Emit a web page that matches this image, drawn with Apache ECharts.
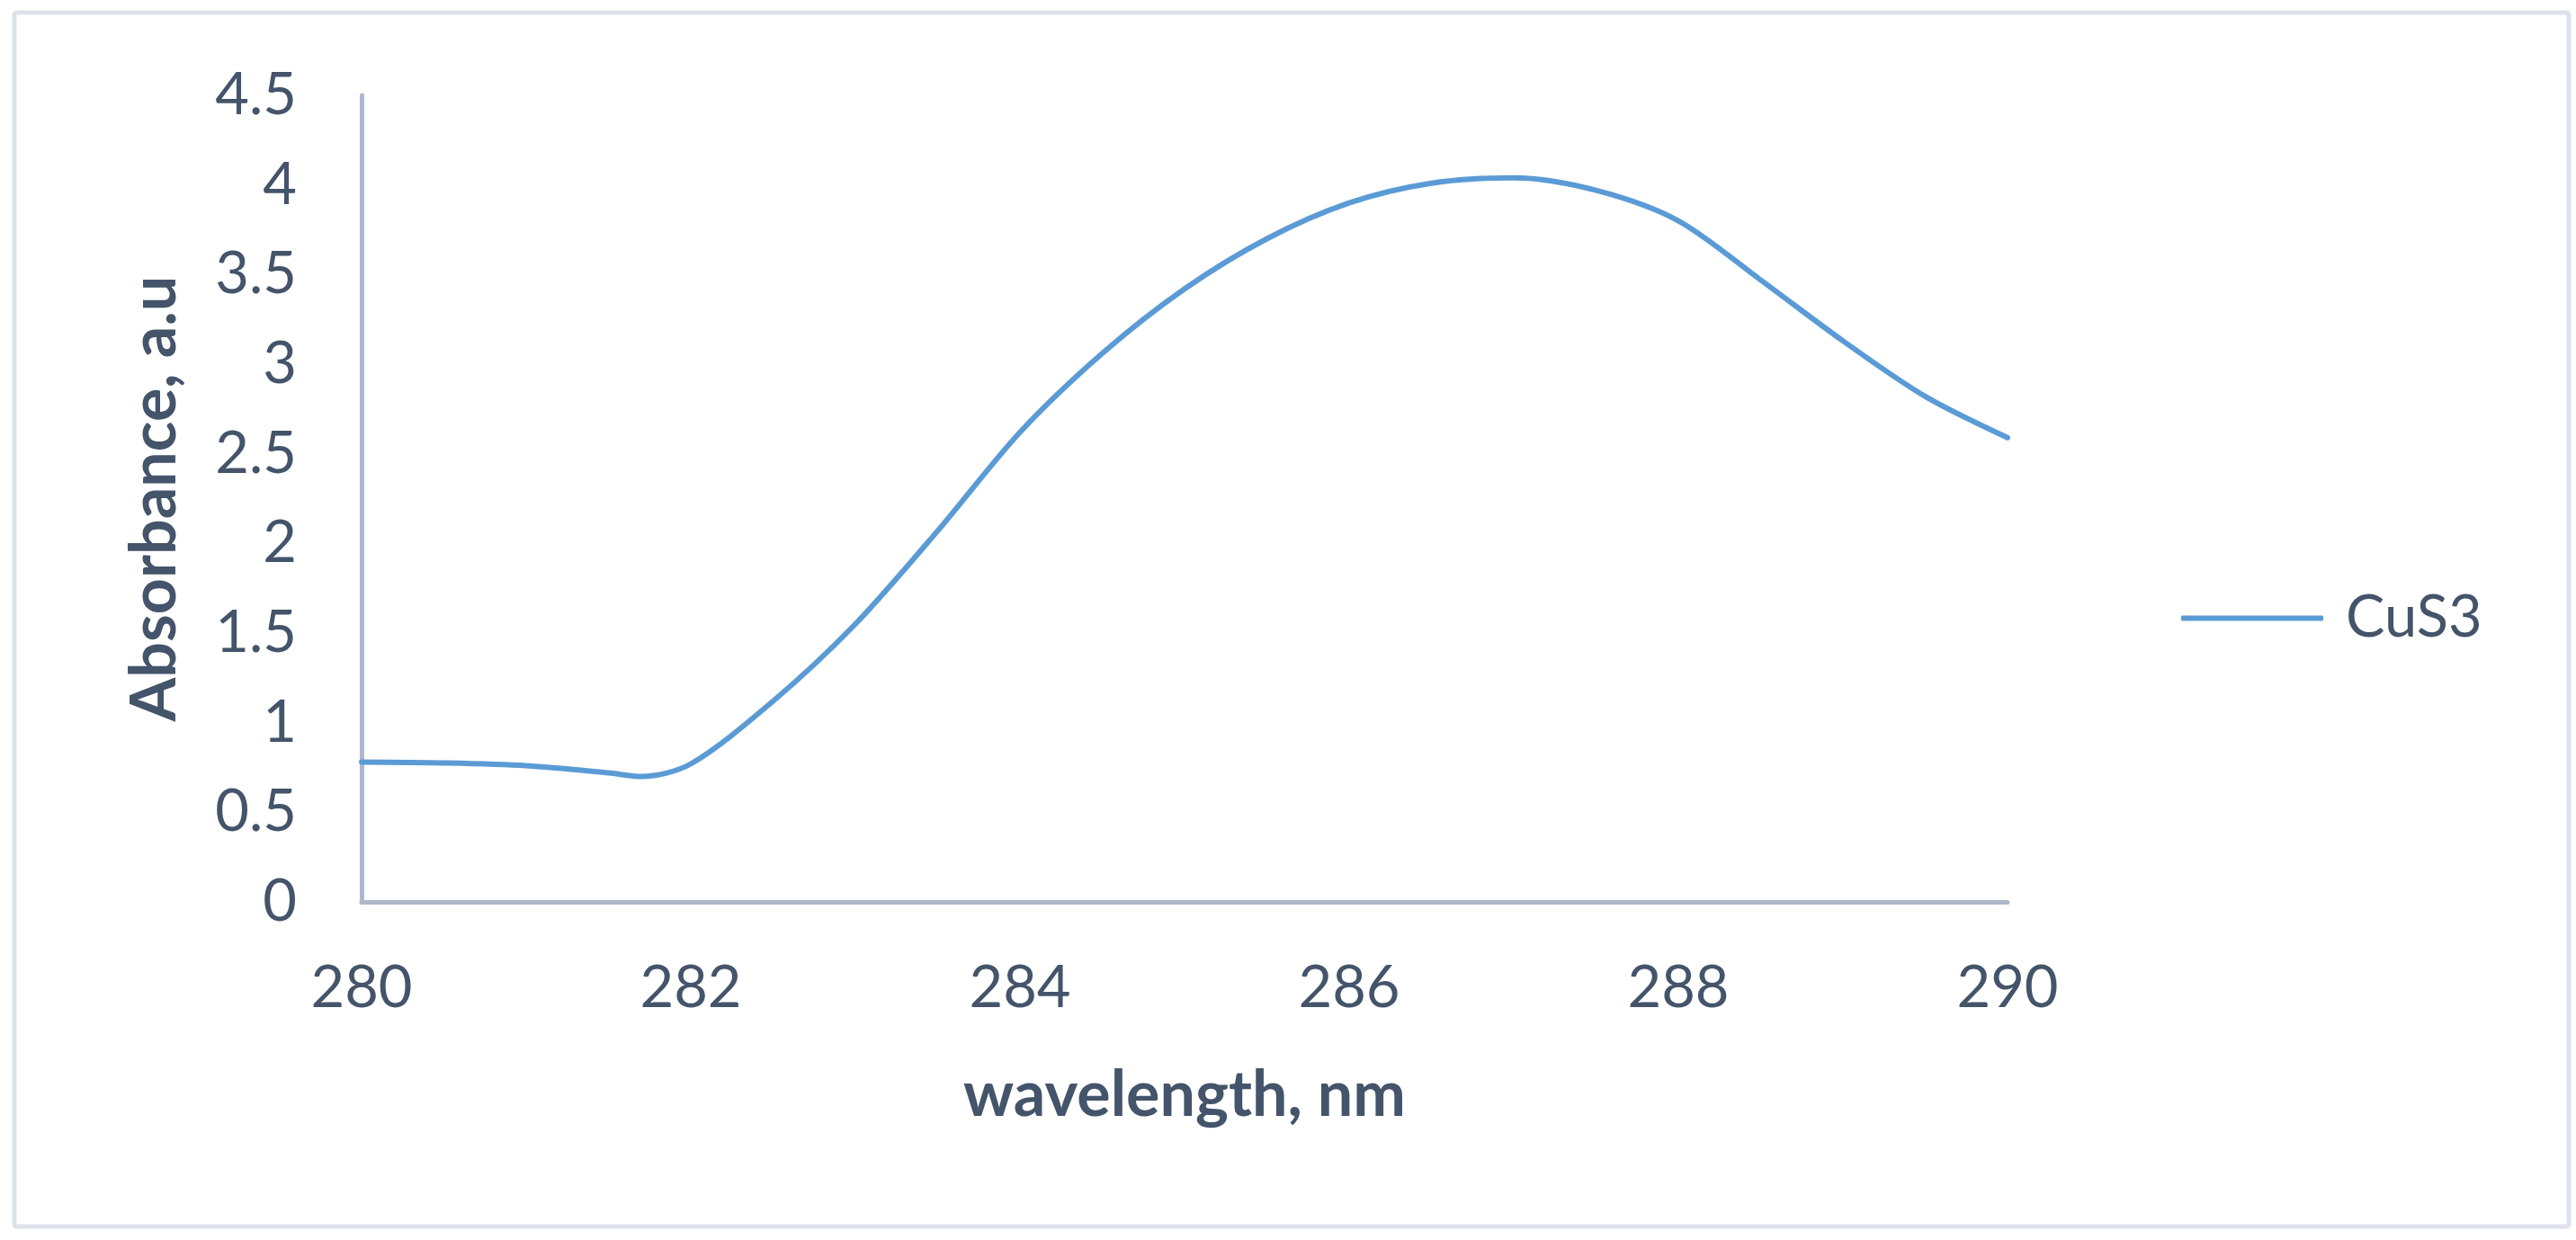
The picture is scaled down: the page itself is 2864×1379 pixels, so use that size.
<!DOCTYPE html>
<html>
<head>
<meta charset="utf-8">
<script src="https://cdn.jsdelivr.net/npm/echarts@6/dist/echarts.min.js"></script>
<style>
html,body{margin:0;padding:0;background:#fff;}
#c{width:2864px;height:1379px;}
</style>
</head>
<body>
<div id="c"></div>
<script>
// Data
const seriesName = 'CuS3';
const wavelengths = [280, 280.5, 281, 281.5, 281.7, 282, 282.5, 283, 283.5, 284, 284.5, 285, 285.5, 286, 286.5, 287, 287.5, 288, 288.5, 289, 289.5, 290];
const absorbance  = [0.78, 0.775, 0.76, 0.72, 0.70, 0.77, 1.12, 1.55, 2.07, 2.62, 3.06, 3.42, 3.70, 3.90, 4.01, 4.04, 3.97, 3.80, 3.47, 3.13, 2.82, 2.59];
const xTicks = [280, 282, 284, 286, 288, 290];
const yTicks = [0, 0.5, 1, 1.5, 2, 2.5, 3, 3.5, 4, 4.5];
const xTitle = 'wavelength, nm';
const yTitle = 'Absorbance, a.u';

const TEXT = '#44546a';
const AXIS = '#adb9ca';
const FONT = 'Lato';

const chart = echarts.init(document.getElementById('c'), null, {renderer: 'canvas'});
chart.setOption({
  backgroundColor: '#ffffff',
  animation: false,
  graphic: [{
    type: 'rect', z: -1,
    shape: {x: 16, y: 14, width: 2840, height: 1350, r: 3},
    style: {fill: 'none', stroke: '#dde2ea', lineWidth: 5}
  }],
  grid: {left: 402, right: 632, top: 106, bottom: 376, containLabel: false},
  legend: {
    data: [seriesName],
    left: 2420, top: 650,
    orient: 'vertical',
    itemWidth: 158, itemHeight: 6, itemGap: 0,
    icon: 'roundRect',
    itemStyle: {color: '#5b9bd5'},
    textStyle: {color: TEXT, fontFamily: FONT, fontSize: 65, padding: [0, 0, 0, 20]}
  },
  xAxis: {
    type: 'value',
    min: xTicks[0], max: xTicks[xTicks.length - 1], interval: 2,
    name: xTitle, nameLocation: 'middle', nameGap: 180,
    nameTextStyle: {color: TEXT, fontFamily: FONT, fontSize: 70, fontWeight: 'bold'},
    axisLine: {show: true, onZero: false, lineStyle: {color: AXIS, width: 5}},
    axisTick: {show: false},
    splitLine: {show: false},
    axisLabel: {color: TEXT, fontFamily: FONT, fontSize: 65, margin: 64}
  },
  yAxis: {
    type: 'value',
    min: yTicks[0], max: yTicks[yTicks.length - 1], interval: 0.5,
    name: yTitle, nameLocation: 'middle', nameGap: 195, nameRotate: 90,
    nameTextStyle: {color: TEXT, fontFamily: FONT, fontSize: 70, fontWeight: 'bold'},
    axisLine: {show: true, lineStyle: {color: AXIS, width: 5}},
    axisTick: {show: false},
    splitLine: {show: false},
    axisLabel: {color: TEXT, fontFamily: FONT, fontSize: 65, margin: 72}
  },
  series: [{
    name: seriesName,
    type: 'line',
    smooth: 0.3,
    showSymbol: false,
    symbol: 'none',
    data: wavelengths.map((w, i) => [w, absorbance[i]]),
    lineStyle: {color: '#5b9bd5', width: 6, cap: 'round'},
    itemStyle: {color: '#5b9bd5'}
  }]
});
</script>
</body>
</html>
